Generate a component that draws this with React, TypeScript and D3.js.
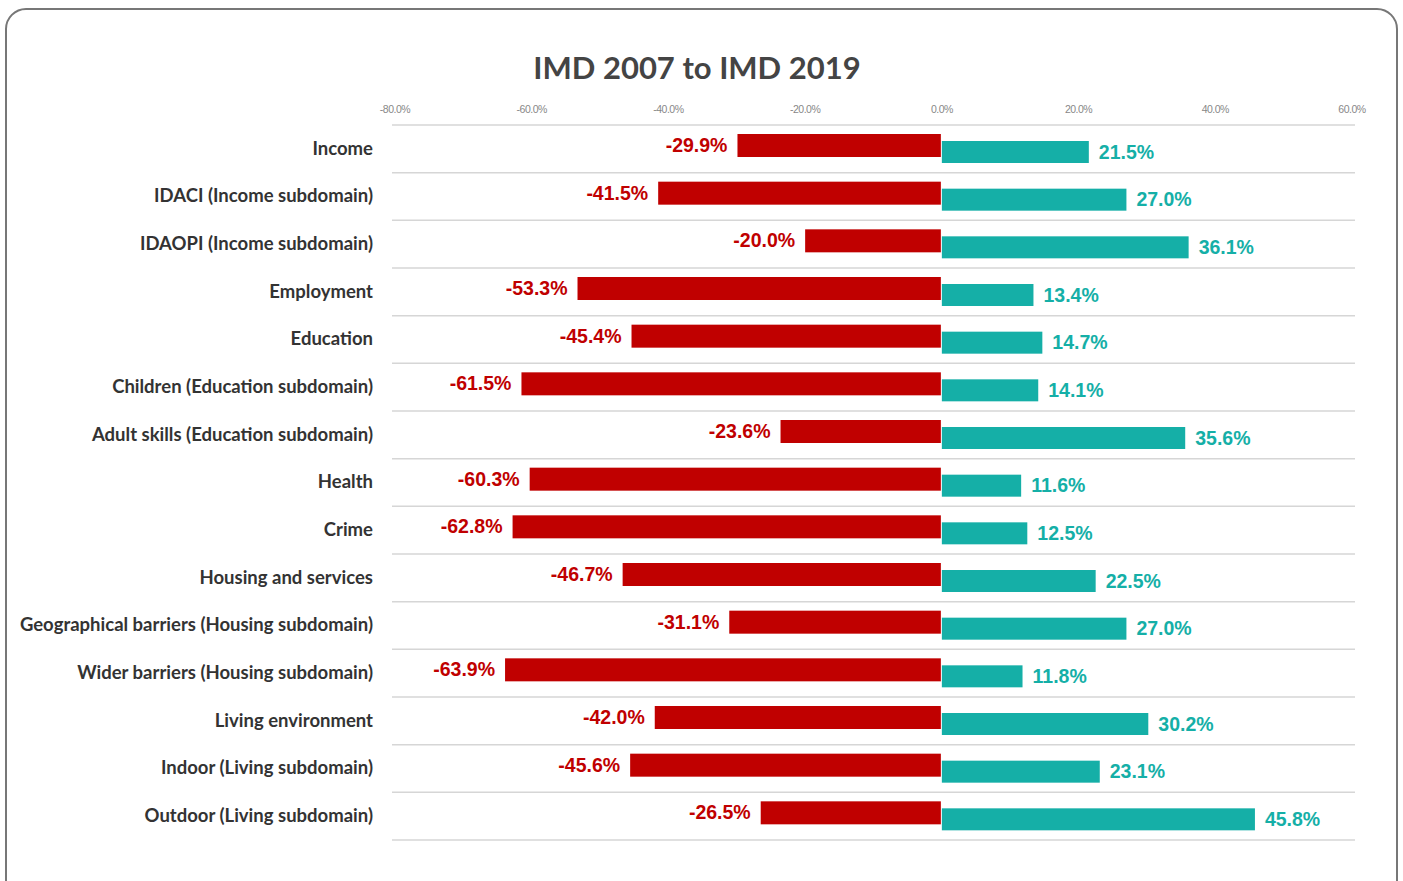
import React from "react";
import * as d3 from "d3";

const categories = [
  "Income",
  "IDACI (Income subdomain)",
  "IDAOPI  (Income subdomain)",
  "Employment",
  "Education",
  "Children (Education subdomain)",
  "Adult skills (Education subdomain)",
  "Health",
  "Crime",
  "Housing and services",
  "Geographical barriers (Housing subdomain)",
  "Wider barriers (Housing subdomain)",
  "Living environment",
  "Indoor (Living subdomain)",
  "Outdoor (Living subdomain)",
];
const decreaseValues = [-29.9, -41.5, -20.0, -53.3, -45.4, -61.5, -23.6, -60.3, -62.8, -46.7, -31.1, -63.9, -42.0, -45.6, -26.5];
const increaseValues = [21.5, 27.0, 36.1, 13.4, 14.7, 14.1, 35.6, 11.6, 12.5, 22.5, 27.0, 11.8, 30.2, 23.1, 45.8];
const tickValues = [-80, -60, -40, -20, 0, 20, 40, 60];

const W = 1403;
const H = 881;
const RED = "#C00000";
const TEAL = "#15AFA7";

export default function App() {
  const x = d3.scaleLinear().domain([-80, 60]).range([395, 1352]);
  const y = d3.scaleBand<string>().domain(categories).range([125, 840]).padding(0);
  const bw = y.bandwidth();
  const fmt = (v: number) => v.toFixed(1) + "%";
  const labelFont = "Lato, 'Open Sans', sans-serif";
  const valFont = "'Liberation Sans', Arial, sans-serif";
  return (
    <svg width={W} height={H} style={{ position: "absolute", left: 0, top: 0, background: "#fff" }}>
      <rect x={6} y={9} width={1391} height={900} rx={20} ry={20} fill="#fff" stroke="#777" strokeWidth={2} />
      <text x={697} y={71} textAnchor="middle" dominantBaseline="middle" fontFamily={labelFont} fontWeight={700} fontSize={31} fill="#444">
        IMD 2007 to IMD 2019
      </text>
      {tickValues.map((t) => (
        <text key={t} x={x(t)} y={110} textAnchor="middle" dominantBaseline="middle" fontFamily={valFont} fontSize={10.5} fill="#888" letterSpacing={-0.5}>
          {t.toFixed(1) + "%"}
        </text>
      ))}
      {[...categories.map((c) => y(c) as number), 840].map((yy, i) => (
        <line key={"g" + i} x1={392} x2={1355} y1={yy} y2={yy} stroke="#d6d6d6" strokeWidth={1.5} />
      ))}
      {categories.map((c, i) => {
        const top = y(c) as number;
        const nv = decreaseValues[i];
        const pv = increaseValues[i];
        return (
          <g key={c}>
            <text x={373} y={top + bw / 2 + 1} textAnchor="end" dominantBaseline="middle" fontFamily={labelFont} fontWeight={700} fontSize={18.5} fill="#333">
              {c}
            </text>
            <rect x={x(nv)} y={top + 9} width={x(0) - 1 - x(nv)} height={23} fill={RED} />
            <rect x={x(0)} y={top + 16} width={x(pv) - x(0)} height={22} fill={TEAL} />
            <text x={x(nv) - 10} y={top + 22} textAnchor="end" dominantBaseline="middle" fontFamily={valFont} fontWeight={700} fontSize={19.5} fill={RED}>
              {fmt(nv)}
            </text>
            <text x={x(pv) + 10} y={top + 28.5} textAnchor="start" dominantBaseline="middle" fontFamily={valFont} fontWeight={700} fontSize={19.5} fill={TEAL}>
              {fmt(pv)}
            </text>
          </g>
        );
      })}
    </svg>
  );
}
